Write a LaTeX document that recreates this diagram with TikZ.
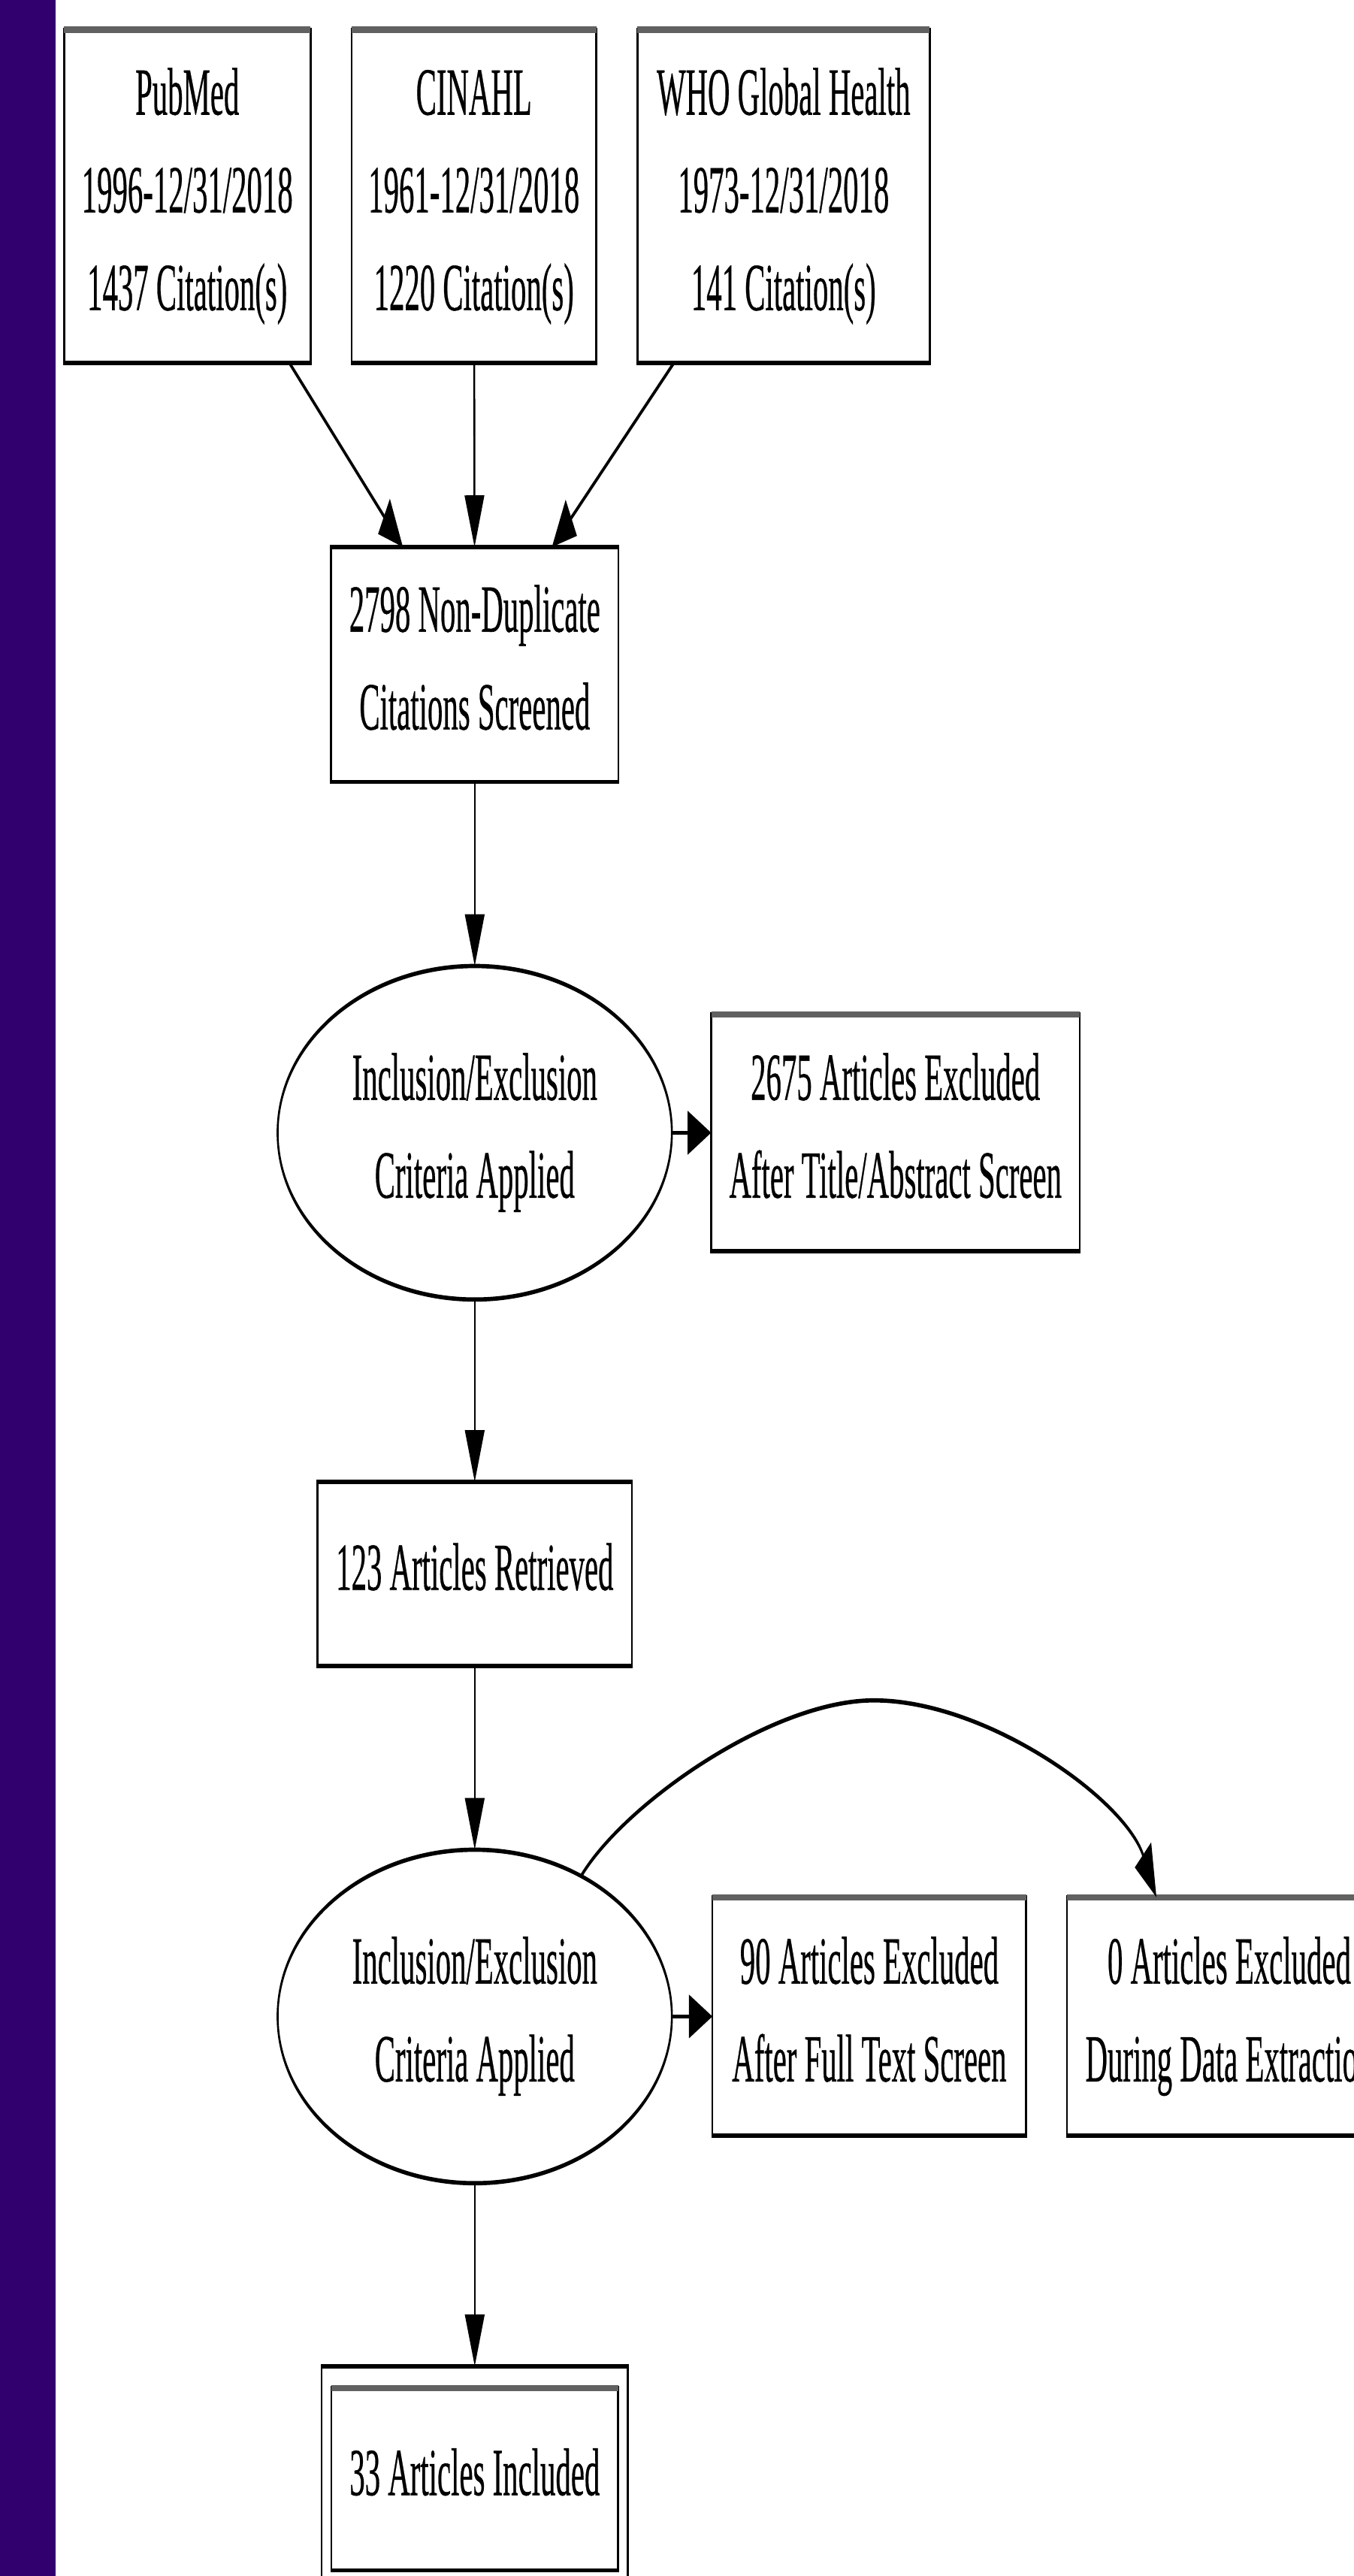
\documentclass[tikz,border=0pt]{standalone}
\usepackage{fontspec}
\setmainfont[FakeBold=0.6]{Liberation Serif}
\usetikzlibrary{arrows.meta,shapes.geometric}
\definecolor{stripe}{RGB}{50,0,110}
\newcommand\gvl{\rule[-20pt]{0pt}{59.5pt}}
\tikzset{
  gvtext/.style={font=\fontsize{41pt}{59.5pt}\selectfont, align=center, inner sep=0pt, outer sep=0pt},
  gvbox/.style={gvtext, draw, rectangle, line width=2.6pt},
  gvell/.style={gvtext, draw, ellipse, line width=2.6pt, minimum width=527.5pt, minimum height=203pt},
  arr/.style={line width=2.6pt, -{Triangle[length=31.5pt,width=26pt]}},
  band/.style={line width=3.8pt, black!62},
}
\begin{document}
\begin{tikzpicture}
\path[use as bounding box] (0,0) rectangle (824pt,-1568pt);
\fill[white] (0,0) rectangle (824pt,-1568pt);
\fill[stripe] (0,0) rectangle (34pt,-1568pt);
\begin{scope}[x=2.1978pt, y=-1pt, transform canvas={xscale=0.455}]
  % sources
  \node[gvbox, minimum width=329.7pt, minimum height=203pt] (pub) at (114,119.5)
    {\gvl PubMed\\\gvl 1996-12/31/2018\\\gvl 1437 Citation(s)};
  \node[gvbox, minimum width=327.5pt, minimum height=203pt] (cin) at (288.5,119.5)
    {\gvl CINAHL\\\gvl 1961-12/31/2018\\\gvl 1220 Citation(s)};
  \node[gvbox, minimum width=391.2pt, minimum height=203pt] (who) at (477,119.5)
    {\gvl WHO Global Health\\\gvl 1973-12/31/2018\\\gvl 141 Citation(s)};
  % screening
  \node[gvbox, minimum width=384.6pt, minimum height=143pt] (scr) at (289,404.5)
    {\gvl 2798 Non-Duplicate\\\gvl Citations Screened};
  \node[gvell] (ell1) at (289,689.5)
    {\gvl Inclusion/Exclusion\\\gvl Criteria Applied};
  \node[gvbox, minimum width=493pt, minimum height=144pt] (ex1) at (545.1,689.5)
    {\gvl 2675 Articles Excluded\\\gvl After Title/Abstract Screen};
  \node[gvbox, minimum width=420.4pt, minimum height=112pt] (ret) at (289,958)
    {\gvl 123 Articles Retrieved};
  \node[gvell] (ell2) at (289,1227.4)
    {\gvl Inclusion/Exclusion\\\gvl Criteria Applied};
  \node[gvbox, minimum width=419.8pt, minimum height=145pt] (ex2) at (529.2,1227.4)
    {\gvl 90 Articles Excluded\\\gvl After Full Text Screen};
  \node[gvbox, minimum width=434pt, minimum height=145pt] (ex3) at (748.3,1227.4)
    {\gvl 0 Articles Excluded\\\gvl During Data Extraction};
  \node[gvbox, minimum width=409.5pt, minimum height=137.4pt] (incout) at (289,1509) {};
  \node[gvbox, minimum width=383.5pt, minimum height=111pt] (inc) at (289,1509)
    {\gvl 33 Articles Included};
  % grey top bands
  \foreach \n in {pub,cin,who,ex1,ex2,ex3,inc}
    \draw[band] (\n.north west) -- (\n.north east);
  % connectors
  \draw[arr] (pub) -- (scr);
  \draw[arr] (cin) -- (scr);
  \draw[arr] (who) -- (scr);
  \draw[arr] (scr) -- (ell1);
  \draw[arr] (ell1) -- (ex1);
  \draw[arr] (ell1) -- (ret);
  \draw[arr] (ret) -- (ell2);
  \draw[arr] (ell2) -- (ex2);
  \coordinate (peak) at (532,1035);
  \draw[arr] (ell2.31.75) .. controls (380,1098) and (470,1035) .. (peak)
     .. controls (600,1035) and (685,1095) .. ([xshift=119.6pt]ex3.north west);
  \draw[arr] (ell2) -- (incout);
\end{scope}
\end{tikzpicture}
\end{document}
